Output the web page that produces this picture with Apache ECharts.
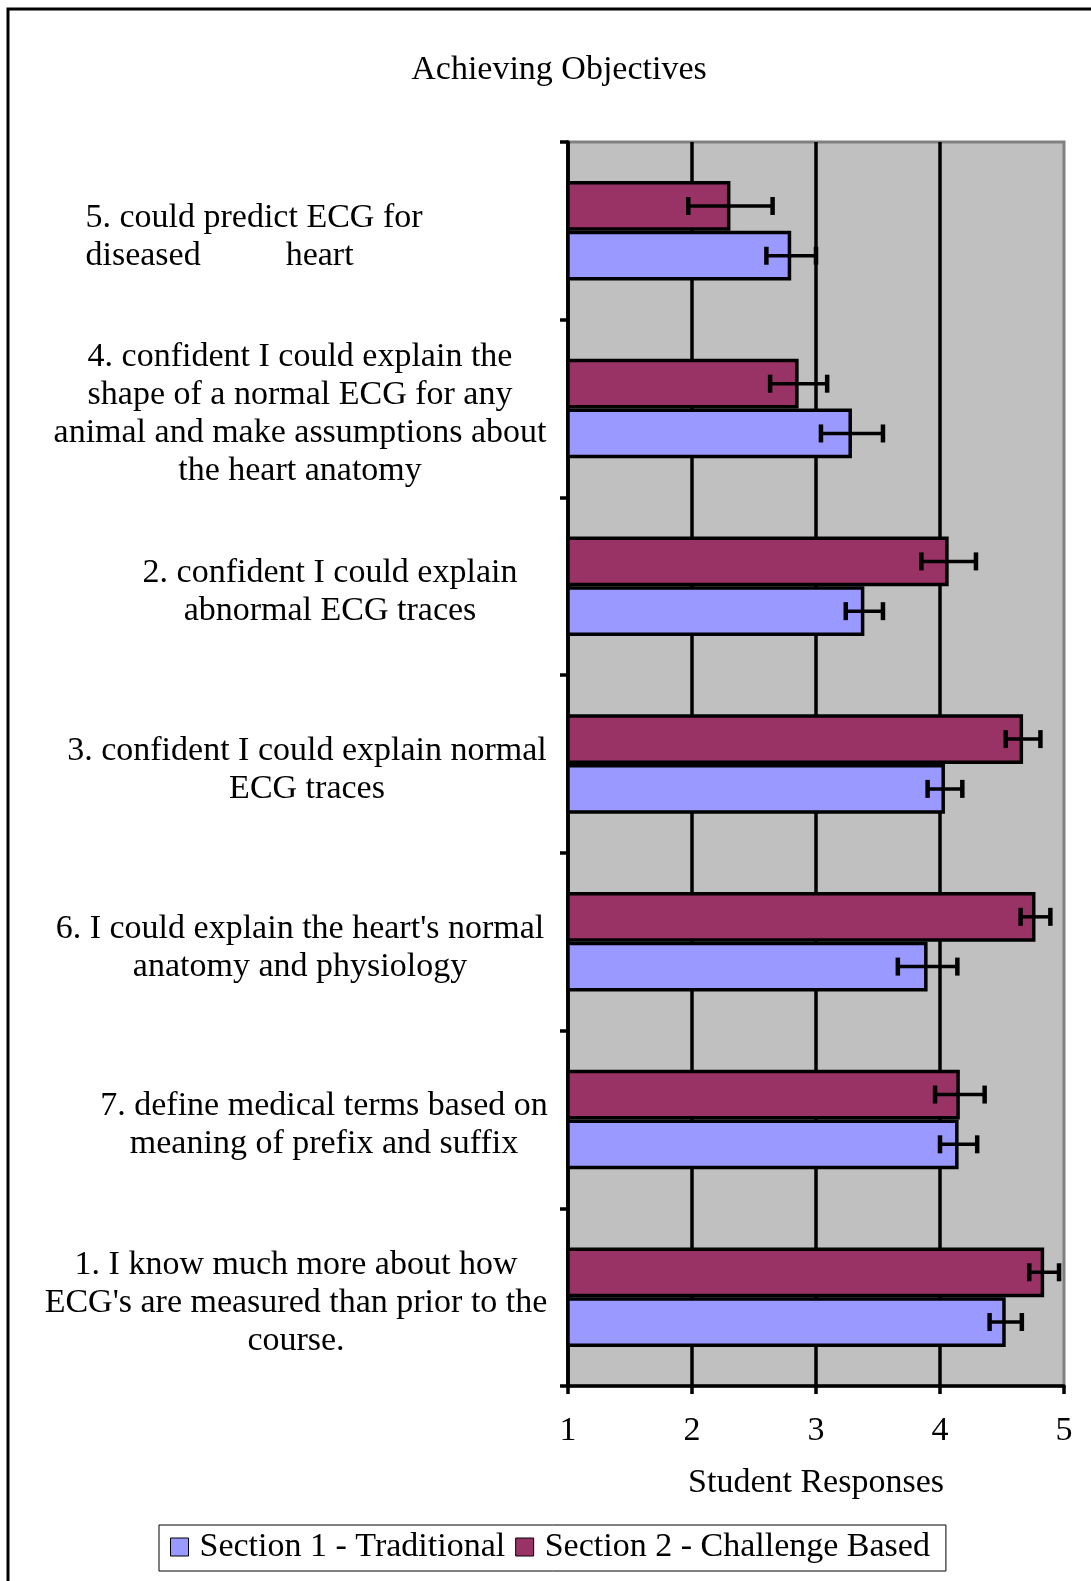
<!DOCTYPE html>
<html>
<head>
<meta charset="utf-8">
<script src="https://cdn.jsdelivr.net/npm/echarts@6/dist/echarts.min.js"></script>
<style>
  html, body { margin: 0; padding: 0; background: #fff; }
  #chart { width: 1091px; height: 1581px; }
</style>
</head>
<body>
<div id="chart"></div>
<script>
// categories, bottom to top
const categories = [
  "1. I know much more about how\nECG's are measured than prior to the\ncourse.",
  "7. define medical terms based on\nmeaning of prefix and suffix",
  "6. I could explain the heart's normal\nanatomy and physiology",
  "3. confident I could explain normal\nECG traces",
  "2. confident I could explain\nabnormal ECG traces",
  "4. confident I could explain the\nshape of a normal ECG for any\nanimal and make assumptions about\nthe heart anatomy",
  "5. could predict ECG for\ndiseased          heart"
];
const traditional = [4.53, 4.15, 3.90, 4.04, 3.39, 3.29, 2.80];
const traditionalErr = [0.13, 0.15, 0.24, 0.14, 0.15, 0.25, 0.20];
const challenge = [4.84, 4.16, 4.77, 4.67, 4.07, 2.86, 2.31];
const challengeErr = [0.12, 0.20, 0.12, 0.14, 0.22, 0.23, 0.34];
const xTicks = [1, 2, 3, 4, 5];

// horizontal nudges for the label blocks
const labelShift = [-4, 24, 0, 7, 30, 0, -46];
const labelAlign = ['center', 'center', 'center', 'center', 'center', 'center', 'left'];

const font = 'Liberation Serif';
const rich = {};
labelShift.forEach(function (s, i) {
  rich['l' + i] = {
    fontFamily: font, fontSize: 34, lineHeight: 38, color: '#000',
    align: labelAlign[i],
    padding: s >= 0 ? [12, 0, 0, 2 * s] : [12, -2 * s, 0, 0]
  };
});

function errData(vals, errs) {
  return vals.map(function (v, i) { return [i, v - errs[i], v + errs[i]]; });
}

function errorRender(shift) {
  return function (params, api) {
    const cat = api.value(0);
    const lo = api.coord([api.value(1), cat]);
    const hi = api.coord([api.value(2), cat]);
    const band = api.size([0, 1])[1];
    const y = lo[1] + band * shift;
    const cap = 9;
    const st = { stroke: '#000', lineWidth: 3.5 };
    const capSt = { stroke: '#000', lineWidth: 4.5 };
    return {
      type: 'group',
      children: [
        { type: 'line', shape: { x1: lo[0], y1: y, x2: hi[0], y2: y }, style: st },
        { type: 'line', shape: { x1: lo[0], y1: y - cap, x2: lo[0], y2: y + cap }, style: capSt },
        { type: 'line', shape: { x1: hi[0], y1: y - cap, x2: hi[0], y2: y + cap }, style: capSt }
      ]
    };
  };
}

const chart = echarts.init(document.getElementById('chart'));
chart.setOption({
  animation: false,
  backgroundColor: '#fff',
  graphic: [{
    type: 'rect',
    shape: { x: 8, y: 9, width: 1200, height: 1700 },
    style: { fill: 'none', stroke: '#000', lineWidth: 3 },
    silent: true
  }],
  title: {
    text: 'Achieving Objectives',
    left: 554,
    top: 48,
    textAlign: 'center',
    textStyle: { fontFamily: font, fontSize: 34, fontWeight: 'normal', color: '#000' }
  },
  legend: {
    data: ['Section 1 - Traditional', 'Section 2 - Challenge Based'],
    left: 159,
    top: 1525,
    orient: 'horizontal',
    icon: 'rect',
    itemWidth: 18,
    itemHeight: 18,
    itemGap: 10,
    padding: [5, 16, 7, 11],
    borderColor: '#000',
    borderWidth: 1,
    backgroundColor: '#fff',
    itemStyle: { borderColor: '#000', borderWidth: 1 },
    textStyle: { fontFamily: font, fontSize: 34, color: '#000', padding: [0, 0, 0, 6] }
  },
  grid: {
    left: 568,
    right: 27,
    top: 142,
    bottom: 195,
    show: true,
    backgroundColor: '#C0C0C0',
    borderColor: '#808080',
    borderWidth: 3
  },
  xAxis: {
    type: 'value',
    min: xTicks[0],
    max: xTicks[xTicks.length - 1],
    interval: 1,
    name: 'Student Responses',
    nameLocation: 'middle',
    nameGap: 80,
    nameTextStyle: { fontFamily: font, fontSize: 34, color: '#000' },
    axisLine: { show: true, lineStyle: { color: '#000', width: 3.5 } },
    axisTick: { show: true, length: 8, lineStyle: { color: '#000', width: 3.5 } },
    axisLabel: { fontFamily: font, fontSize: 34, color: '#000', margin: 28 },
    splitLine: { show: true, showMaxLine: false, lineStyle: { color: '#000', width: 3.5 } }
  },
  yAxis: {
    type: 'category',
    data: categories,
    axisLine: { show: true, lineStyle: { color: '#000', width: 3.5 } },
    axisTick: { show: true, length: 8, lineStyle: { color: '#000', width: 3.5 } },
    splitLine: { show: false },
    axisLabel: {
      margin: 268,
      align: 'center',
      interval: 0,
      fontFamily: font,
      fontSize: 34,
      lineHeight: 38,
      color: '#000',
      formatter: function (value, index) { return '{l' + index + '|' + value + '}'; },
      rich: rich
    }
  },
  series: [
    {
      name: 'Section 2 - Challenge Based',
      type: 'bar',
      data: challenge,
      barGap: '0%',
      barCategoryGap: '44%',
      itemStyle: { color: '#993366', borderColor: '#000', borderWidth: 3.5 }
    },
    {
      name: 'Section 1 - Traditional',
      type: 'bar',
      data: traditional,
      barGap: '0%',
      barCategoryGap: '44%',
      itemStyle: { color: '#9999FF', borderColor: '#000', borderWidth: 3.5 }
    },
    {
      type: 'custom',
      name: 'err2',
      renderItem: errorRender(-0.14),
      encode: { x: [1, 2], y: 0 },
      data: errData(challenge, challengeErr),
      z: 5
    },
    {
      type: 'custom',
      name: 'err1',
      renderItem: errorRender(0.14),
      encode: { x: [1, 2], y: 0 },
      data: errData(traditional, traditionalErr),
      z: 5
    }
  ]
});
</script>
</body>
</html>
